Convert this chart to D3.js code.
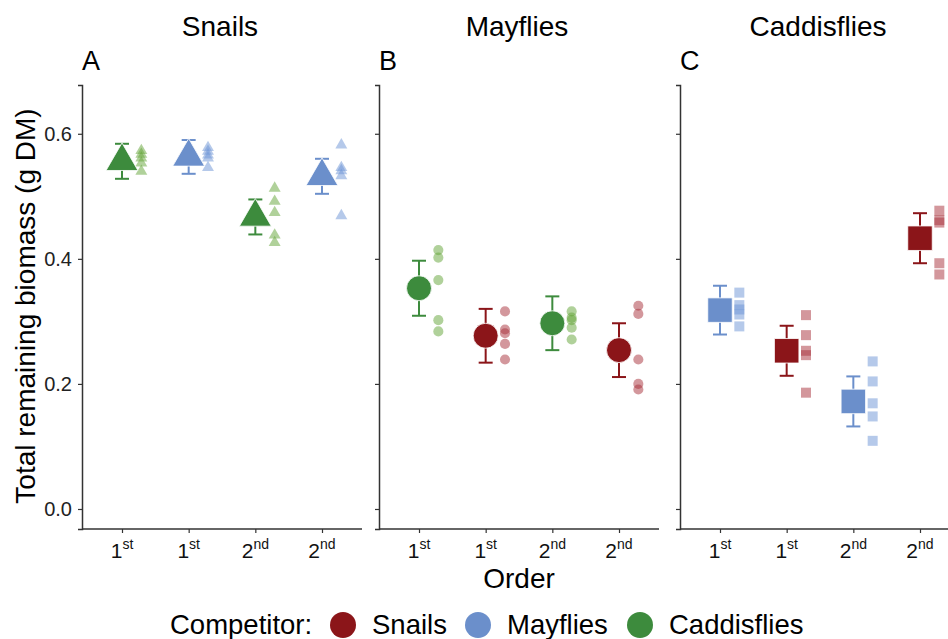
<!DOCTYPE html>
<html>
<head>
<meta charset="utf-8">
<script src="https://cdn.jsdelivr.net/npm/d3@7"></script>
<style>
  body { margin: 0; background: #fff; }
  svg { font-family: "Liberation Sans", Arial, sans-serif; }
</style>
</head>
<body>
<div id="chart"></div>
<script>
// focal taxon per panel
const panels = ['Snails', 'Mayflies', 'Caddisflies'];
const panelLetters = ['A', 'B', 'C'];
const panelShapes = ['triangle', 'circle', 'square'];

// x categories (same in each panel)
const slots = ['s1', 's2', 's3', 's4'];
const orderLabels = [['1', 'st'], ['1', 'st'], ['2', 'nd'], ['2', 'nd']];

// competitor in each slot, per panel
const competitors = [
  ['Caddisflies', 'Mayflies', 'Caddisflies', 'Mayflies'],
  ['Caddisflies', 'Snails', 'Caddisflies', 'Snails'],
  ['Mayflies', 'Snails', 'Mayflies', 'Snails']
];

// means and standard errors
const means = [
  [0.556, 0.563, 0.467, 0.532],
  [0.353, 0.277, 0.297, 0.254],
  [0.318, 0.253, 0.172, 0.433]
];
const errors = [
  [0.028, 0.027, 0.028, 0.028],
  [0.044, 0.043, 0.043, 0.043],
  [0.039, 0.040, 0.040, 0.040]
];

// replicate values
const reps = [
  [
    [0.573, 0.567, 0.561, 0.553, 0.540],
    [0.578, 0.572, 0.566, 0.561, 0.546],
    [0.513, 0.492, 0.474, 0.438, 0.426],
    [0.582, 0.546, 0.541, 0.533, 0.469]
  ],
  [
    [0.414, 0.402, 0.366, 0.302, 0.284],
    [0.316, 0.287, 0.281, 0.264, 0.239],
    [0.316, 0.306, 0.302, 0.290, 0.271],
    [0.325, 0.312, 0.239, 0.200, 0.191]
  ],
  [
    [0.346, 0.326, 0.319, 0.311, 0.292],
    [0.310, 0.278, 0.253, 0.246, 0.186],
    [0.236, 0.204, 0.169, 0.148, 0.109],
    [0.477, 0.462, 0.458, 0.393, 0.375]
  ]
];

const yTicks = [0.0, 0.2, 0.4, 0.6];
const legendItems = ['Snails', 'Mayflies', 'Caddisflies'];

const colors = { Snails: '#8b1519', Mayflies: '#6b8fcb', Caddisflies: '#3d8b3d' };
const pointColors = { Snails: '#a8303a', Mayflies: '#6b94d6', Caddisflies: '#62a336' };

const W = 948, H = 639;
const svg = d3.select('#chart').append('svg').attr('width', W).attr('height', H);

const y = d3.scaleLinear().domain([-0.032, 0.678]).range([529, 85]);
const panelLeft = [82, 379, 680];
const panelWidth = 280;

const symType = { triangle: d3.symbolTriangle, circle: d3.symbolCircle, square: d3.symbolSquare };
const bigSize = { triangle: 440, circle: 490, square: 600 };
const smallSize = { triangle: 62, circle: 80, square: 100 };

panels.forEach((name, pi) => {
  const x = d3.scalePoint().domain(slots).range([panelLeft[pi], panelLeft[pi] + panelWidth]).padding(0.6);
  const g = svg.append('g');
  const nudge = x.step() * 0.29;

  // axes
  const yAxis = g.append('g').attr('transform', `translate(${panelLeft[pi]},0)`)
    .call(d3.axisLeft(y).tickValues(yTicks).tickSize(4).tickFormat(pi === 0 ? d3.format('.1f') : ''));
  yAxis.select('.domain').attr('stroke', '#333').attr('stroke-width', 1.5);
  yAxis.selectAll('.tick line').attr('stroke', '#333').attr('stroke-width', 1.2);
  yAxis.selectAll('.tick text').attr('font-size', 20).attr('fill', '#222').attr('dx', -3)
    .attr('font-family', '"Liberation Sans", Arial, sans-serif');

  const xAxis = g.append('g').attr('transform', 'translate(0,529)')
    .call(d3.axisBottom(x).tickSize(4).tickSizeOuter(0).tickFormat(''));
  xAxis.select('.domain').attr('stroke', '#333').attr('stroke-width', 1.5)
    .attr('d', `M${panelLeft[pi]},0H${panelLeft[pi] + panelWidth}`);
  xAxis.selectAll('.tick line').attr('stroke', '#333').attr('stroke-width', 1.2);

  // tick labels with superscripts
  slots.forEach((s, i) => {
    const t = g.append('text').attr('x', x(s)).attr('y', 558)
      .attr('text-anchor', 'middle').attr('fill', '#111').attr('font-size', 21);
    t.append('tspan').text(orderLabels[i][0]);
    t.append('tspan').attr('font-size', 14).attr('dy', -9).text(orderLabels[i][1]);
  });

  // panel title and letter
  g.append('text').attr('x', panelLeft[pi] + panelWidth / 2 - 2).attr('y', 36)
    .attr('text-anchor', 'middle').attr('font-size', 28).text(name);
  g.append('text').attr('x', panelLeft[pi]).attr('y', 70)
    .attr('font-size', 27).text(panelLetters[pi]);

  const shape = panelShapes[pi];

  // replicate points
  slots.forEach((s, i) => {
    const comp = competitors[pi][i];
    reps[pi][i].forEach(v => {
      g.append('path')
        .attr('d', d3.symbol().type(symType[shape]).size(smallSize[shape])())
        .attr('transform', `translate(${x(s) + nudge},${y(v)})`)
        .attr('fill', pointColors[comp]).attr('fill-opacity', 0.5);
    });
  });

  // error bars and means
  slots.forEach((s, i) => {
    const comp = competitors[pi][i];
    const m = means[pi][i], e = errors[pi][i];
    const cx = x(s);
    const eb = g.append('g').attr('stroke', colors[comp]).attr('stroke-width', 2);
    eb.append('line').attr('x1', cx).attr('x2', cx).attr('y1', y(m + e)).attr('y2', y(m - e));
    eb.append('line').attr('x1', cx - 7).attr('x2', cx + 7).attr('y1', y(m + e)).attr('y2', y(m + e));
    eb.append('line').attr('x1', cx - 7).attr('x2', cx + 7).attr('y1', y(m - e)).attr('y2', y(m - e));
    g.append('path')
      .attr('d', d3.symbol().type(symType[shape]).size(bigSize[shape])())
      .attr('transform', `translate(${cx},${y(m)})`)
      .attr('fill', colors[comp]).attr('stroke', '#fff').attr('stroke-width', 0.8);
  });
});

// y axis title
svg.append('text')
  .attr('transform', 'translate(35,306) rotate(-90)')
  .attr('text-anchor', 'middle').attr('font-size', 28)
  .text('Total remaining biomass (g DM)');

// x axis title
svg.append('text').attr('x', 519).attr('y', 588)
  .attr('text-anchor', 'middle').attr('font-size', 28).text('Order');

// legend
const lg = svg.append('g');
lg.append('text').attr('x', 170).attr('y', 634).attr('font-size', 27.5).text('Competitor:');
const legendX = [343, 478, 640];
legendItems.forEach((n, i) => {
  lg.append('circle').attr('cx', legendX[i]).attr('cy', 625).attr('r', 13).attr('fill', colors[n]);
  lg.append('text').attr('x', legendX[i] + 29).attr('y', 634).attr('font-size', 27.5).text(n);
});
</script>
</body>
</html>
